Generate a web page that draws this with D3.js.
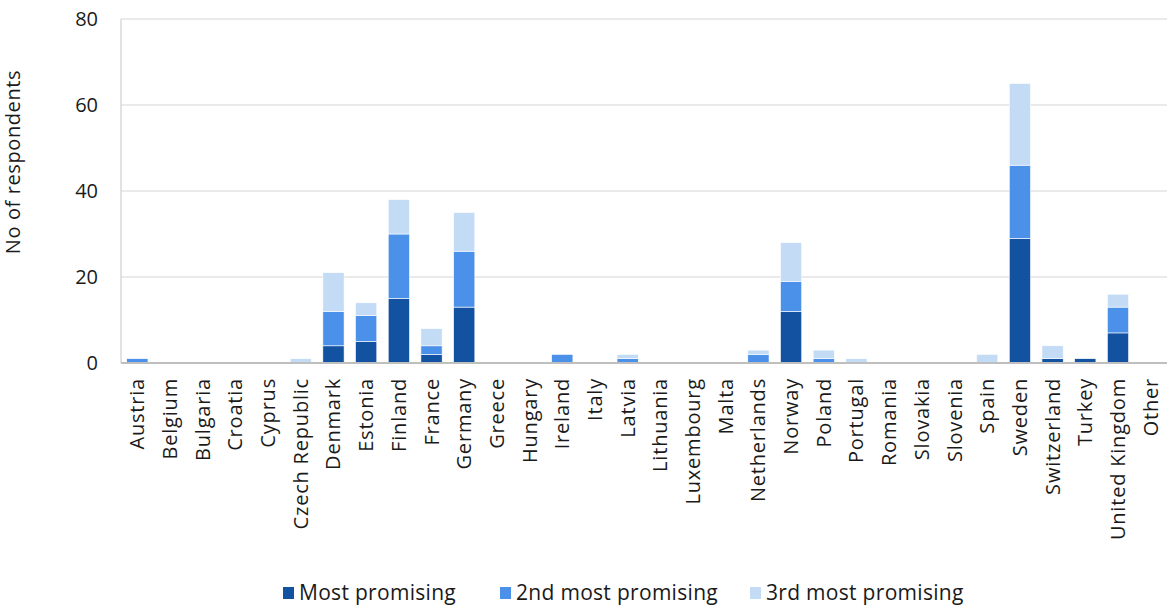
<!DOCTYPE html>
<html><head><meta charset="utf-8">
<script src="https://cdn.jsdelivr.net/npm/d3@7"></script>
<style>
body{margin:0;background:#fff;}
text{font-family:"Open Sans","Noto Sans",sans-serif;fill:#1a1a1a;}
</style></head><body>
<svg id="c" width="1169" height="608"></svg>
<script>
const categories = ["Austria","Belgium","Bulgaria","Croatia","Cyprus","Czech Republic","Denmark","Estonia","Finland","France","Germany","Greece","Hungary","Ireland","Italy","Latvia","Lithuania","Luxembourg","Malta","Netherlands","Norway","Poland","Portugal","Romania","Slovakia","Slovenia","Spain","Sweden","Switzerland","Turkey","United Kingdom","Other"];
const mostPromising   = [0,0,0,0,0,0,4,5,15,2,13,0,0,0,0,0,0,0,0,0,12,0,0,0,0,0,0,29,1,1,7,0];
const second          = [1,0,0,0,0,0,8,6,15,2,13,0,0,2,0,1,0,0,0,2,7,1,0,0,0,0,0,17,0,0,6,0];
const third           = [0,0,0,0,0,1,9,3,8,4,9,0,0,0,0,1,0,0,0,1,9,2,1,0,0,0,2,19,3,0,3,0];
const seriesNames = ["Most promising","2nd most promising","3rd most promising"];
const colors = ["#1351a1","#4b91ea","#c4dbf6"];
const yTicks = [0,20,40,60,80];

const svg = d3.select("#c");
const m = {l:121, r:1167, t:19, b:363};
const data = categories.map((c,i)=>({cat:c, s0:mostPromising[i], s1:second[i], s2:third[i]}));
const stack = d3.stack().keys(["s0","s1","s2"])(data);

const x = d3.scaleBand().domain(categories).range([m.l,m.r]).paddingInner(0.35).paddingOuter(0.175);
const y = d3.scaleLinear().domain([0,80]).range([m.b,m.t]);

svg.append("g").selectAll("line").data(yTicks.filter(d=>d>0)).join("line")
  .attr("x1",m.l).attr("x2",m.r).attr("y1",d=>y(d)).attr("y2",d=>y(d))
  .attr("stroke","#e3e3e3").attr("stroke-width",1.5);
svg.append("line").attr("x1",m.l).attr("x2",m.l).attr("y1",m.t).attr("y2",m.b)
  .attr("stroke","#d9d9d9").attr("stroke-width",1.5);

svg.append("g").selectAll("g").data(stack).join("g")
  .attr("fill",(d,i)=>colors[i])
  .selectAll("rect").data(d=>d.filter(v=>v[1]-v[0]>0)).join("rect")
  .attr("x",d=>x(d.data.cat)).attr("width",x.bandwidth())
  .attr("y",d=>y(d[1])).attr("height",d=>y(d[0])-y(d[1]))
  .attr("stroke","#fff").attr("stroke-width",0.6);

svg.append("line").attr("x1",m.l).attr("x2",m.r).attr("y1",y(0)).attr("y2",y(0))
  .attr("stroke","#bfbfbf").attr("stroke-width",2);

const FONT = "'Open Sans','Noto Sans',sans-serif";
const ya = d3.axisLeft(y).tickValues(yTicks).tickSize(0).tickPadding(23);
const yg = svg.append("g").attr("transform",`translate(${m.l},0)`).call(ya);
yg.select(".domain").remove();
yg.selectAll("text").style("font-size","20px").attr("fill","#1a1a1a").style("font-family",FONT);

const xa = d3.axisBottom(x).tickSize(0).tickPadding(0);
const xg = svg.append("g").attr("transform",`translate(0,${m.b})`).call(xa);
xg.select(".domain").remove();
xg.selectAll("text").style("font-size","20px").style("letter-spacing","0.8px").attr("fill","#1a1a1a").style("font-family",FONT)
  .attr("transform","rotate(-90)").attr("text-anchor","end").attr("dx","-15px").attr("dy","0.35em").attr("y",0).attr("x",0);

svg.append("text").attr("transform","translate(20,162) rotate(-90)").attr("text-anchor","middle")
  .style("font-size","20px").style("letter-spacing","0.6px").text("No of respondents");

const lx = [283,500,750];
const lg = svg.append("g").selectAll("g").data(seriesNames).join("g")
  .attr("transform",(d,i)=>`translate(${lx[i]},593)`);
lg.append("rect").attr("x",0).attr("y",-6).attr("width",11).attr("height",12).attr("fill",(d,i)=>colors[i]);
lg.append("text").attr("x",16).attr("y",0).attr("dy","0.35em").style("font-size","21px").style("letter-spacing","0.3px").text(d=>d);
</script>
</body></html>
